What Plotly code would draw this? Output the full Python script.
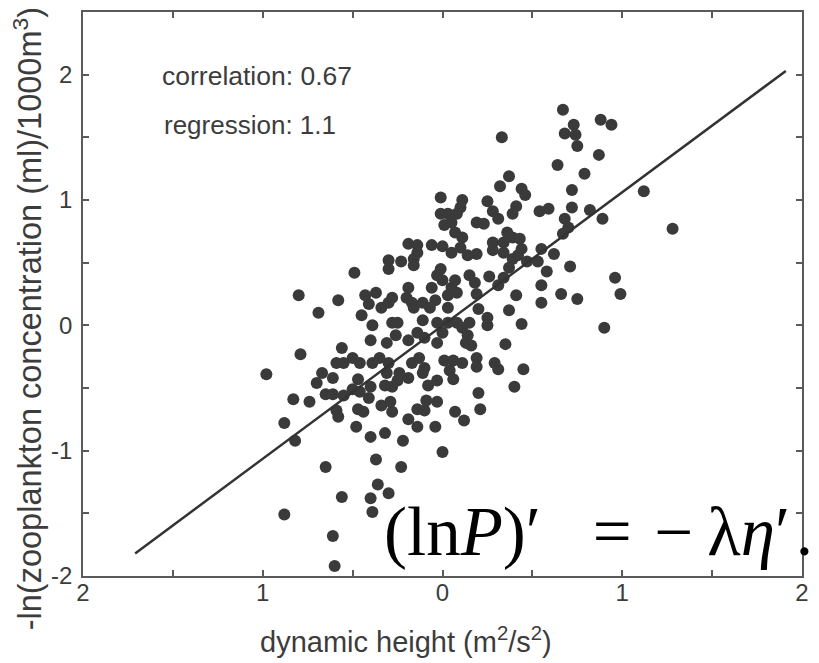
import plotly.graph_objects as go

# dynamic height (m^2/s^2)
dyn_height = [
    -0.01, -0.01, 0.03, 0.01, -0.19, -0.14, -0.14, -0.06, 0.00, -0.30,
    -0.30, -0.23, -0.16, -0.16, -0.49, -0.01, -0.03, 0.00, -0.80, -0.69,
    -0.58, -0.43, -0.37, -0.41, -0.45, -0.34, -0.30, -0.28, -0.19, -0.20,
    -0.17, -0.16, -0.11, -0.06, -0.04, -0.07, 0.03, 0.03, 0.05, -0.39,
    -0.28, -0.25, -0.11, -0.03, 0.03,
    0.67, 0.88, 0.94, 0.73, 0.68, 0.74, 0.75, 0.33, 0.87, 0.64,
    0.79, 0.37, 0.32, 0.44, 0.46, 0.72, 1.12, 0.11, 0.10, 0.25,
    0.41, 0.39, 0.28, 0.31, 0.54, 0.59, 0.72, 0.82, 0.68, 0.70,
    0.67, 0.89, 1.28, 0.08, 0.19, 0.23, 0.05, 0.07, 0.11, 0.34,
    0.39, 0.43, 0.44, 0.42, 0.39, 0.34, 0.28, 0.28, 0.36, 0.10,
    0.14, 0.05, 0.19, 0.55, 0.62, 0.47, 0.53, 0.37, 0.58, 0.71,
    0.26, 0.15, 0.18, 0.07, 0.08, 0.34, 0.31, 0.19, 0.41, 0.55,
    0.66, 0.75, 0.55, 0.96, 0.99, 0.37, 0.20, 0.25, 0.25, 0.15,
    0.11, 0.08, 0.44, 0.90,
    -0.98, -0.79, -0.56, -0.59, -0.55, -0.50, -0.46, -0.67, -0.70, -0.61,
    -0.65, -0.61, -0.55, -0.50, -0.46, -0.47, -0.83, -0.74, -0.88, -0.82,
    -0.59, -0.58, -0.47, -0.44, -0.48, -0.40, -0.32, -0.22, -0.19, -0.14,
    -0.04, -0.10, -0.03, -0.09, -0.14, -0.28, -0.34, -0.41, -0.29, -0.40,
    -0.39, -0.35, -0.30, -0.40, -0.31, -0.26, -0.19, -0.14, -0.10, -0.03,
    0.00, -0.31, -0.32, -0.25, -0.19, -0.28, -0.24, -0.17, -0.13, -0.10,
    -0.11, -0.08, -0.03, 0.01, 0.04, 0.00, -0.23, -0.37, -0.65, -0.36,
    -0.30, -0.40, -0.56, -0.39, -0.88, -0.61, -0.60,
    0.14, 0.13, 0.16, 0.35, 0.06, 0.11, 0.19, 0.19, 0.29, 0.31,
    0.45, 0.40, 0.06, 0.20, 0.21, 0.07, 0.12,
]

# -ln(zooplankton concentration (ml)/1000m^3)
neg_ln_zoo = [
    1.02, 0.89, 0.89, 0.80, 0.65, 0.64, 0.58, 0.64, 0.63, 0.52,
    0.45, 0.51, 0.53, 0.48, 0.42, 0.45, 0.40, 0.36, 0.24, 0.10,
    0.20, 0.24, 0.26, 0.17, 0.08, 0.14, 0.18, 0.22, 0.30, 0.22,
    0.18, 0.14, 0.18, 0.30, 0.20, 0.14, 0.24, 0.14, 0.30, 0.00,
    0.02, 0.02, 0.04, 0.02, 0.02,
    1.72, 1.64, 1.60, 1.60, 1.53, 1.52, 1.43, 1.50, 1.36, 1.28,
    1.21, 1.19, 1.11, 1.09, 1.04, 1.08, 1.07, 1.00, 0.94, 0.99,
    0.95, 0.89, 0.91, 0.85, 0.91, 0.93, 0.94, 0.92, 0.85, 0.78,
    0.73, 0.85, 0.77, 0.89, 0.82, 0.81, 0.82, 0.74, 0.70, 0.66,
    0.70, 0.69, 0.61, 0.56, 0.53, 0.58, 0.66, 0.60, 0.74, 0.62,
    0.56, 0.58, 0.57, 0.61, 0.57, 0.51, 0.51, 0.46, 0.43, 0.47,
    0.39, 0.40, 0.34, 0.36, 0.26, 0.38, 0.32, 0.25, 0.24, 0.32,
    0.25, 0.21, 0.18, 0.38, 0.25, 0.12, 0.13, 0.06, 0.00, 0.02,
    -0.02, 0.02, 0.01, -0.02,
    -0.39, -0.23, -0.18, -0.30, -0.30, -0.26, -0.30, -0.38, -0.46, -0.42,
    -0.55, -0.55, -0.56, -0.51, -0.53, -0.43, -0.59, -0.61, -0.78, -0.92,
    -0.68, -0.73, -0.67, -0.69, -0.81, -0.89, -0.86, -0.92, -0.75, -0.81,
    -0.81, -0.68, -0.61, -0.60, -0.67, -0.69, -0.64, -0.58, -0.61, -0.49,
    -0.30, -0.26, -0.30, -0.12, -0.14, -0.08, -0.12, -0.06, -0.10, -0.14,
    -0.06, -0.38, -0.48, -0.44, -0.42, -0.49, -0.38, -0.30, -0.26, -0.34,
    -0.38, -0.48, -0.44, -0.28, -0.36, -1.01, -1.13, -1.07, -1.13, -1.27,
    -1.34, -1.38, -1.37, -1.49, -1.51, -1.68, -1.92,
    -0.08, -0.14, -0.16, -0.15, -0.28, -0.30, -0.26, -0.33, -0.30, -0.35,
    -0.35, -0.49, -0.43, -0.54, -0.67, -0.69, -0.76,
]

# regression line end points
fit_x = [-1.71, 1.91]
fit_y = [-1.82, 2.03]

x_tick_vals = [-2, -1, 0, 1, 2]
x_tick_text = ["2", "1", "0", "1", "2"]
y_tick_vals = [-2, -1, 0, 1, 2]
y_tick_text = ["-2", "-1", "0", "1", "2"]

GRAY = "#3a3a3a"
AXIS = "#5a5a5a"
TXT = "#3c3c3c"
FONT = "Liberation Sans"

fig = go.Figure()
fig.add_trace(go.Scatter(
    x=dyn_height, y=neg_ln_zoo, mode="markers",
    marker=dict(size=12, color=GRAY, line=dict(width=0)),
    showlegend=False, hoverinfo="skip",
))
fig.add_trace(go.Scatter(
    x=fit_x, y=fit_y, mode="lines",
    line=dict(color="#333333", width=2.5),
    showlegend=False, hoverinfo="skip",
))

axis_common = dict(
    showgrid=False, zeroline=False, showline=True, linecolor=AXIS, linewidth=1.5,
    mirror="ticks", ticks="inside", ticklen=6, tickwidth=1.5, tickcolor=AXIS,
    tickfont=dict(family=FONT, size=24, color=TXT),
    minor=dict(ticks="inside", ticklen=6, tickwidth=1.5, tickcolor=AXIS,
               tickmode="linear", tick0=0, dtick=0.5, showgrid=False),
)
fig.update_xaxes(range=[-2, 2], tickmode="array", tickvals=x_tick_vals,
                 ticktext=x_tick_text, ticklabelstandoff=-6, **axis_common)
fig.update_yaxes(range=[-2, 2.5], tickmode="array", tickvals=y_tick_vals,
                 ticktext=y_tick_text, ticklabelstandoff=4, **axis_common)

eq_text = ("(ln<i>P</i>)\u2032\u2002\u00a0=\u00a0\u200a\u2212\u2009\u03bb<i>\u03b7</i>\u2032\u200a.")

annotations = [
    dict(text="correlation: 0.67", x=0.107, y=0.886, xref="paper", yref="paper",
         xanchor="left", yanchor="middle", showarrow=False,
         font=dict(family=FONT, size=26.5, color=TXT)),
    dict(text="regression: 1.1", x=0.110, y=0.799, xref="paper", yref="paper",
         xanchor="left", yanchor="middle", showarrow=False,
         font=dict(family=FONT, size=26, color=TXT)),
    dict(text="dynamic height (m<sup>2</sup>/s<sup>2</sup>)", x=0.449, y=-0.113,
         xref="paper", yref="paper", xanchor="center", yanchor="middle",
         showarrow=False, font=dict(family=FONT, size=29, color=TXT)),
    dict(text="-ln(zooplankton concentration (ml)/1000m<sup>3</sup>)", x=-0.0765, y=0.457,
         xref="paper", yref="paper", xanchor="center", yanchor="middle", textangle=-90,
         showarrow=False, font=dict(family=FONT, size=32.5, color=TXT)),
    dict(text=eq_text, x=0.416, y=0.0786,
         xref="paper", yref="paper", xanchor="left", yanchor="middle",
         showarrow=False, font=dict(family="Liberation Serif", size=69, color="#000000")),
]

# the page body has an 8px margin; margins are set so the plot area lands at
# x 83..802, y 10..576 of the 819x663 window
fig.update_layout(
    width=811, height=655,
    margin=dict(l=75, r=17, t=2, b=87),
    paper_bgcolor="white", plot_bgcolor="white",
    annotations=annotations,
)

fig.write_html("out.html")
